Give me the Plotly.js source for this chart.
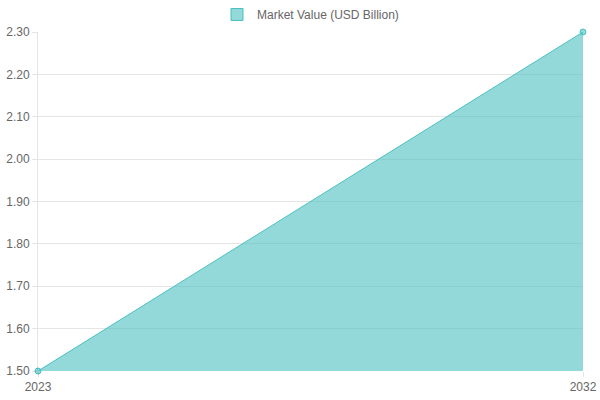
<!DOCTYPE html>
<html>
<head>
<meta charset="utf-8">
<script src="https://cdn.plot.ly/plotly-3.0.1.min.js"></script>
<style>
  html, body { margin: 0; padding: 0; background: #fff; }
  #chart { width: 600px; height: 400px; }
</style>
</head>
<body>
<div id="chart"></div>
<script>
const years = ['2023', '2032'];
const marketValue = [1.5, 2.3];
const seriesName = 'Market Value (USD Billion)';

const teal = 'rgb(75,192,192)';
const tealFill = 'rgba(75,192,192,0.6)';

const Chart = {
    draw: () => {
        let data = [{
            x: years,
            y: marketValue,
            type: 'scatter',
            mode: 'lines+markers',
            fill: 'tozeroy',
            fillcolor: tealFill,
            line: { color: teal, width: 1 },
            marker: { size: 6, color: tealFill, line: { color: teal, width: 1 } },
            cliponaxis: false,
            showlegend: false,
            hoverinfo: 'x+y'
        }, {
            // legend entry only (box like the reference)
            x: [null],
            y: [null],
            type: 'bar',
            marker: { color: tealFill, line: { color: teal, width: 1 } },
            name: seriesName,
            showlegend: true
        }];

        let layout = {
            width: 600,
            height: 400,
            margin: { l: 38, r: 17, t: 32, b: 29 },
            paper_bgcolor: '#fff',
            plot_bgcolor: '#fff',
            font: { family: 'Liberation Sans, Arial, sans-serif', size: 12, color: '#666' },
            showlegend: true,
            legend: {
                orientation: 'h',
                x: 0.5,
                xanchor: 'center',
                yref: 'container',
                y: 1,
                yanchor: 'top',
                font: { size: 12, color: '#666' }
            },
            xaxis: {
                type: 'category',
                range: [0, 1],
                showgrid: true,
                gridcolor: 'rgba(0,0,0,0.1)',
                zeroline: false,
                showline: false,
                ticks: 'outside',
                ticklen: 5,
                tickcolor: 'rgba(0,0,0,0.1)'
            },
            yaxis: {
                range: [1.5, 2.3],
                dtick: 0.1,
                tick0: 1.5,
                tickformat: '.2f',
                showgrid: true,
                gridcolor: 'rgba(0,0,0,0.1)',
                zeroline: false,
                showline: true,
                linecolor: 'rgba(0,0,0,0.1)',
                ticks: 'outside',
                ticklen: 5,
                tickcolor: 'rgba(0,0,0,0.1)'
            }
        };

        Plotly.newPlot('chart', data, layout, { displayModeBar: false });
    }
};

Chart.draw();
</script>
</body>
</html>
